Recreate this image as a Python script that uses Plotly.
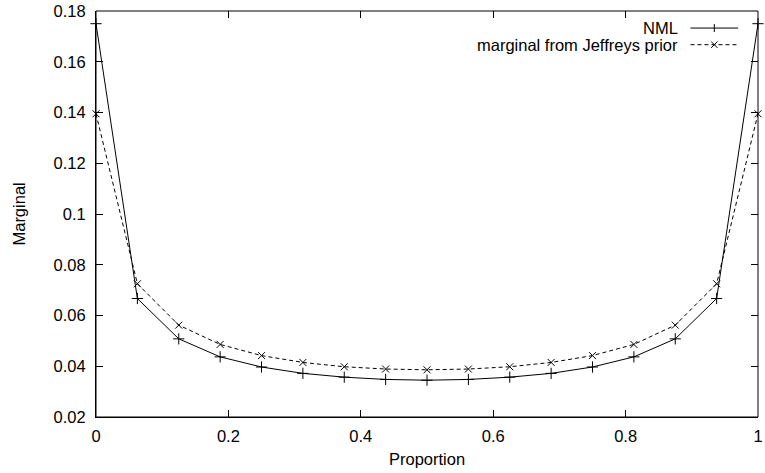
import plotly.graph_objects as go

# Data (n = 16 trials)
proportion = [0, 0.0625, 0.125, 0.1875, 0.25, 0.3125, 0.375, 0.4375, 0.5,
              0.5625, 0.625, 0.6875, 0.75, 0.8125, 0.875, 0.9375, 1]
nml = [0.175, 0.0667, 0.0508, 0.0437, 0.0397, 0.0372, 0.0357, 0.0348, 0.0345,
       0.0348, 0.0357, 0.0372, 0.0397, 0.0437, 0.0508, 0.0667, 0.175]
jeffreys = [0.1395, 0.0725, 0.0562, 0.0486, 0.0442, 0.0415, 0.0398, 0.0389, 0.0386,
            0.0389, 0.0398, 0.0415, 0.0442, 0.0486, 0.0562, 0.0725, 0.1395]

x_ticks = [0, 0.2, 0.4, 0.6, 0.8, 1]
x_ticktext = ["0", "0.2", "0.4", "0.6", "0.8", "1"]
y_ticks = [0.02, 0.04, 0.06, 0.08, 0.1, 0.12, 0.14, 0.16, 0.18]
y_ticktext = ["0.02", "0.04", "0.06", "0.08", "0.1", "0.12", "0.14", "0.16", "0.18"]
x_range = [0, 1]
y_range = [0.02, 0.18]

series_names = ["NML", "marginal from Jeffreys prior"]

FONT = "Liberation Sans, Arial, Helvetica, sans-serif"
FS = 16.5
PLOT_W, PLOT_H = 667.0, 409.0
TICKLEN = 7

fig = go.Figure()
fig.add_trace(go.Scatter(
    x=proportion, y=nml, mode="lines+markers", name=series_names[0],
    line=dict(color="black", width=1),
    marker=dict(symbol="cross-thin", size=8, line=dict(color="black", width=1)),
    showlegend=False, cliponaxis=False))
fig.add_trace(go.Scatter(
    x=proportion, y=jeffreys, mode="lines+markers", name=series_names[1],
    line=dict(color="black", width=1, dash="4px,3px"),
    marker=dict(symbol="x-thin", size=7, line=dict(color="black", width=1)),
    showlegend=False, cliponaxis=False))

# gnuplot-style key: right-aligned text, sample line to the right
key_rows_y = [0.958, 0.917]
key_x0, key_x1, key_xm = 0.898, 0.970, 0.934
shapes = []
line_k = dict(color="black", width=1)
# plot frame
shapes.append(dict(type="rect", xref="paper", yref="paper", x0=0, x1=1, y0=0, y1=1,
                   line=line_k, fillcolor="rgba(0,0,0,0)", layer="above"))
shapes.append(dict(type="line", xref="paper", yref="paper", x0=key_x0, x1=key_x1,
                   y0=key_rows_y[0], y1=key_rows_y[0], line=line_k))
shapes.append(dict(type="line", xref="paper", yref="paper", x0=key_x0, x1=key_x1,
                   y0=key_rows_y[1], y1=key_rows_y[1],
                   line=dict(color="black", width=1, dash="4px,3px")))
# "+" key glyph
hy = 4 / PLOT_H
shapes.append(dict(type="line", xref="paper", yref="paper", x0=key_xm, x1=key_xm,
                   y0=key_rows_y[0] - hy, y1=key_rows_y[0] + hy, line=line_k))
# "x" key glyph
dx, dy = 3.2 / PLOT_W, 3.2 / PLOT_H
shapes.append(dict(type="line", xref="paper", yref="paper", x0=key_xm - dx, x1=key_xm + dx,
                   y0=key_rows_y[1] - dy, y1=key_rows_y[1] + dy, line=line_k))
shapes.append(dict(type="line", xref="paper", yref="paper", x0=key_xm - dx, x1=key_xm + dx,
                   y0=key_rows_y[1] + dy, y1=key_rows_y[1] - dy, line=line_k))

annotations = []
for name, ky in zip(series_names, key_rows_y):
    annotations.append(dict(text=name, x=0.8816, y=ky, xref="paper", yref="paper",
                            xanchor="right", yanchor="middle", showarrow=False,
                            font=dict(family=FONT, size=FS, color="black")))
annotations.append(dict(text="Proportion", x=0.5, y=-0.1027, xref="paper", yref="paper",
                        xanchor="center", yanchor="middle", showarrow=False,
                        font=dict(family=FONT, size=FS, color="black")))
annotations.append(dict(text="Marginal", x=-0.117, y=0.5, xref="paper", yref="paper",
                        xanchor="center", yanchor="middle", showarrow=False, textangle=-90,
                        font=dict(family=FONT, size=FS, color="black")))

axis_common = dict(showgrid=False, zeroline=False, showline=True, linecolor="black",
                   linewidth=1, ticks="inside", ticklen=TICKLEN,
                   tickcolor="black", tickwidth=1, ticklabeloverflow="allow",
                   tickfont=dict(family=FONT, size=FS, color="black"))

fig.update_layout(
    width=765, height=473,
    margin=dict(l=96, r=2, t=8, b=56),
    paper_bgcolor="white", plot_bgcolor="white",
    xaxis=dict(range=x_range, tickvals=x_ticks, ticktext=x_ticktext,
               ticklabelstandoff=4, **axis_common),
    yaxis=dict(range=y_range, tickvals=y_ticks, ticktext=y_ticktext,
               ticklabelstandoff=6, **axis_common),
    # mirrored tick marks on top and right (gnuplot border ticks)
    xaxis2=dict(range=x_range, tickvals=x_ticks, overlaying="x", side="top",
                showticklabels=False, showgrid=False, zeroline=False, showline=False,
                ticks="inside", ticklen=TICKLEN, tickcolor="black", tickwidth=1, anchor="y"),
    yaxis2=dict(range=y_range, tickvals=y_ticks, overlaying="y", side="right",
                showticklabels=False, showgrid=False, zeroline=False, showline=False,
                ticks="inside", ticklen=TICKLEN, tickcolor="black", tickwidth=1, anchor="x"),
    shapes=shapes,
    annotations=annotations,
    showlegend=False,
)

# empty helper trace so the mirrored tick axes are drawn
fig.add_trace(go.Scatter(x=[None], y=[None], xaxis="x2", yaxis="y2",
                         showlegend=False, hoverinfo="skip"))

fig.write_html("out.html", config={"displayModeBar": False},
               post_script="document.body.style.margin='0';document.body.style.overflow='hidden';")
